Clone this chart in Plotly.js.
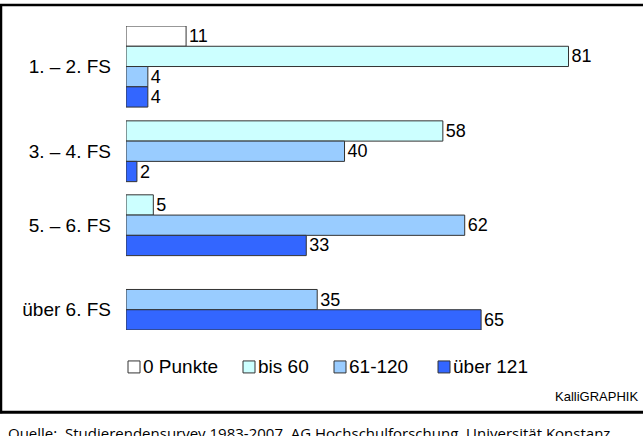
<!DOCTYPE html>
<html>
<head>
<meta charset="utf-8">
<script src="https://cdn.plot.ly/plotly-3.0.1.min.js"></script>
<style>
html,body{margin:0;padding:0;background:#fff;}
#chart{width:643px;height:436px;}
</style>
</head>
<body>
<div id="chart"></div>
<script>
// ---- data ----
const categories = ['1. – 2. FS', '3. – 4. FS', '5. – 6. FS', 'über 6. FS'];
const seriesNames = ['0 Punkte', 'bis 60', '61-120', 'über 121'];
const punkte0 = [11, 0, 0, 0];
const bis60 = [81, 58, 5, 0];
const p61bis120 = [4, 40, 62, 35];
const ueber121 = [4, 2, 33, 65];
const sourceText = 'Quelle:  Studierendensurvey 1983-2007, AG Hochschulforschung, Universität Konstanz';
const creditText = 'KalliGRAPHIK';

// ---- styling / layout ----
const seriesValues = [punkte0, bis60, p61bis120, ueber121];
const colors = ['#FFFFFF', '#CCFFFF', '#99CCFF', '#3366FF'];
const W = 643, H = 436;
const M = {l: 126, r: 23, t: 26, b: 105.5};
const groupGaps = [0, 0.68, 0.65, 1.67]; // spacing (in bar rows) before each group
const FONT = 'Liberation Sans, Arial, sans-serif';

// row positions: zero-valued bars are omitted, remaining bars stack tightly
const ys = seriesValues.map(() => []);
const xs = seriesValues.map(() => []);
const centers = [];
let cursor = 0;
categories.forEach((c, g) => {
  cursor += groupGaps[g];
  const start = cursor;
  seriesValues.forEach((vals, s) => {
    if (vals[g] > 0) {
      ys[s].push(cursor + 0.5);
      xs[s].push(vals[g]);
      cursor += 1;
    }
  });
  centers.push((start + cursor) / 2);
});
const yMax = cursor;

const traces = seriesValues.map((vals, s) => ({
  type: 'bar',
  orientation: 'h',
  name: seriesNames[s],
  x: xs[s],
  y: ys[s],
  width: 1,
  marker: {color: colors[s], line: {color: '#333333', width: 1}},
  text: xs[s].map(String),
  textposition: 'outside',
  constraintext: 'none',
  cliponaxis: false,
  textfont: {family: FONT, size: 18, color: '#000'},
  showlegend: false,
  hoverinfo: 'skip'
}));

const pw = W - M.l - M.r, ph = H - M.t - M.b;
const px = x => (x - M.l) / pw;
const py = y => (H - M.b - y) / ph;

const shapes = [
  // frame lines
  {type: 'line', xref: 'paper', yref: 'paper', x0: px(0), x1: px(W), y0: py(5), y1: py(5), line: {color: '#000', width: 2.5}},
  {type: 'line', xref: 'paper', yref: 'paper', x0: px(0), x1: px(W), y0: py(413), y1: py(413), line: {color: '#000', width: 3}},
  {type: 'line', xref: 'paper', yref: 'paper', x0: px(1), x1: px(1), y0: py(4), y1: py(414), line: {color: '#000', width: 2.5}}
];
const annotations = [];
// manual legend
const legendX = [128, 243, 334, 438];
const legendY = 367.5;
seriesNames.forEach((n, i) => {
  shapes.push({type: 'rect', xref: 'paper', yref: 'paper',
    x0: px(legendX[i]), x1: px(legendX[i] + 12), y0: py(legendY - 6), y1: py(legendY + 6),
    fillcolor: colors[i], line: {color: '#333333', width: 1}});
  annotations.push({xref: 'paper', yref: 'paper', x: px(legendX[i] + 12.5), y: py(legendY),
    xanchor: 'left', yanchor: 'middle', showarrow: false, text: n,
    font: {family: FONT, size: 19, color: '#000'}});
});
annotations.push({xref: 'paper', yref: 'paper', x: px(640), y: py(397), xanchor: 'right', yanchor: 'middle',
  showarrow: false, text: creditText, font: {family: FONT, size: 13, color: '#000'}});
annotations.push({xref: 'paper', yref: 'paper', x: px(6), y: py(434), xanchor: 'left', yanchor: 'middle',
  showarrow: false, text: sourceText, font: {family: 'Open Sans, sans-serif', size: 15, color: '#000'}});

const layout = {
  width: W, height: H,
  margin: M,
  paper_bgcolor: '#fff', plot_bgcolor: 'rgba(0,0,0,0)',
  barmode: 'overlay',
  showlegend: false,
  xaxis: {range: [0, pw / 5.463], showgrid: false, zeroline: false, showline: false, showticklabels: false, ticks: '', fixedrange: true},
  yaxis: {range: [yMax, 0], showgrid: false, zeroline: false, showline: false, ticks: '',
    tickmode: 'array', tickvals: centers, ticktext: categories, ticklabelstandoff: 14,
    tickfont: {family: FONT, size: 19, color: '#000'}, fixedrange: true},
  shapes: shapes,
  annotations: annotations
};

Plotly.newPlot('chart', traces, layout, {displayModeBar: false, staticPlot: true});
</script>
</body>
</html>
